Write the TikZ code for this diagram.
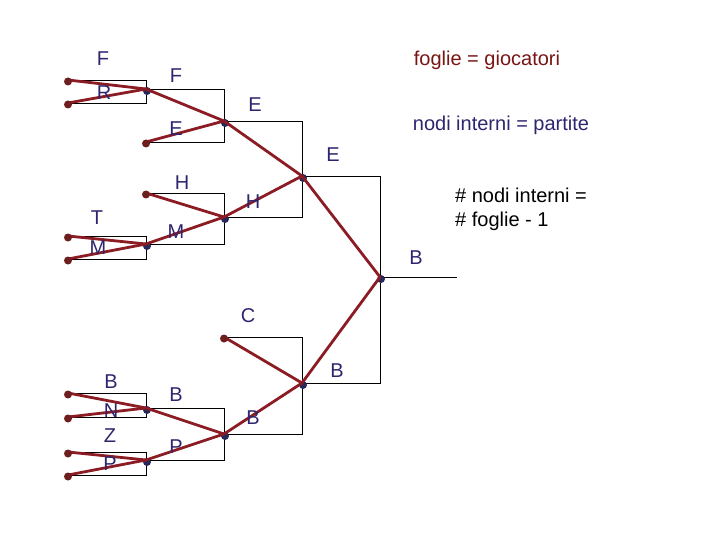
\documentclass[tikz,border=0pt]{standalone}
\usepackage{fontspec}
\setmainfont{Liberation Sans}
\begin{document}
\begin{tikzpicture}[x=1pt,y=-1pt,
  bracket/.style={draw=black,line width=0.8pt},
  match/.style={draw=redline,line width=2.8pt},
  leafdot/.style={fill=leafc,draw=none},
  windot/.style={fill=dotblue,draw=none},
  lbl/.style={text=lblblue,font=\fontsize{20}{23}\selectfont,inner sep=0pt},
]
\definecolor{redline}{RGB}{140,28,36}
\definecolor{leafc}{RGB}{110,30,30}
\definecolor{dotblue}{RGB}{40,40,90}
\definecolor{lblblue}{RGB}{45,38,110}
\definecolor{titlered}{RGB}{120,20,20}
\useasboundingbox (0,0) rectangle (720,540);
% coordinates
\coordinate (l1) at (68,80);  \coordinate (l2) at (68,103);
\coordinate (l3) at (68,236); \coordinate (l4) at (68,259);
\coordinate (l5) at (68,393); \coordinate (l6) at (68,417);
\coordinate (l7) at (68,452); \coordinate (l8) at (68,475);
\coordinate (a1) at (146,89);  \coordinate (a2) at (146,142);
\coordinate (a3) at (146,193); \coordinate (a4) at (146,244);
\coordinate (a5) at (146,408); \coordinate (a6) at (146,460);
\coordinate (b1) at (224,121); \coordinate (b2) at (224,217);
\coordinate (b3) at (224,337); \coordinate (b4) at (224,434);
\coordinate (c1) at (302,176); \coordinate (c2) at (302,383);
\coordinate (d1) at (380,277);
\coordinate (fin) at (457,277);
% brackets
\foreach \p/\q/\w in {l1/l2/a1,l3/l4/a4,l5/l6/a5,l7/l8/a6,a1/a2/b1,a3/a4/b2,a5/a6/b4,b1/b2/c1,b3/b4/c2,c1/c2/d1}{
  \draw[bracket] (\p) -- (\p -| \w) -- (\q -| \w) -- (\q);
}
\draw[bracket] (d1) -- (fin);
% winner dots (partly under the lines)
\foreach \n in {a1,a4,a5,a6,b1,b2,b4,c1,c2,d1}{\fill[windot] ([xshift=1pt,yshift=-2pt]\n) circle (4pt);}
% match lines
\foreach \p/\w in {l1/a1,l2/a1,l3/a4,l4/a4,l5/a5,l6/a5,l7/a6,l8/a6,a1/b1,a2/b1,a3/b2,a4/b2,a5/b4,a6/b4,b1/c1,b2/c1,b3/c2,b4/c2,c1/d1,c2/d1}{
  \draw[match] (\p) -- (\w);
}
% leaf dots
\foreach \n in {l1,l2,l3,l4,l5,l6,l7,l8,a2,a3,b3}{\fill[leafdot] ([yshift=-1.5pt]\n) circle (4pt);}
% labels
\node[lbl] (tF1) at (103,59) {F};
\node[lbl] (tR1) at (104,93) {R};
\node[lbl] (tF2) at (176,76) {F};
\node[lbl] (tE2) at (176,129) {E};
\node[lbl] (tE3) at (255,105) {E};
\node[lbl] (tE4) at (333,155) {E};
\node[lbl] (tH2) at (182,183) {H};
\node[lbl] (tH3) at (253,202) {H};
\node[lbl] (tT1) at (97,218) {T};
\node[lbl] (tM1) at (98,248) {M};
\node[lbl] (tM2) at (176,232) {M};
\node[lbl] (tB5) at (416,258) {B};
\node[lbl] (tC3) at (248,316) {C};
\node[lbl] (tB4) at (337,371) {B};
\node[lbl] (tB1) at (111,382) {B};
\node[lbl] (tN1) at (111,411) {N};
\node[lbl] (tB2) at (176,395) {B};
\node[lbl] (tB3) at (253,418) {B};
\node[lbl] (tZ1) at (110,436) {Z};
\node[lbl] (tP1) at (110,464) {P};
\node[lbl] (tP2) at (176,447) {P};
% notes
\node[lbl,text=titlered] (n1) at (487,60) {foglie = giocatori};
\node[lbl] (n2) at (501,125) {nodi interni = partite};
\node[lbl,text=black,anchor=north west,align=left,font=\fontsize{20}{24}\selectfont] (n3) at (455,188) {\# nodi interni =\\\# foglie - 1};
\end{tikzpicture}
\end{document}
